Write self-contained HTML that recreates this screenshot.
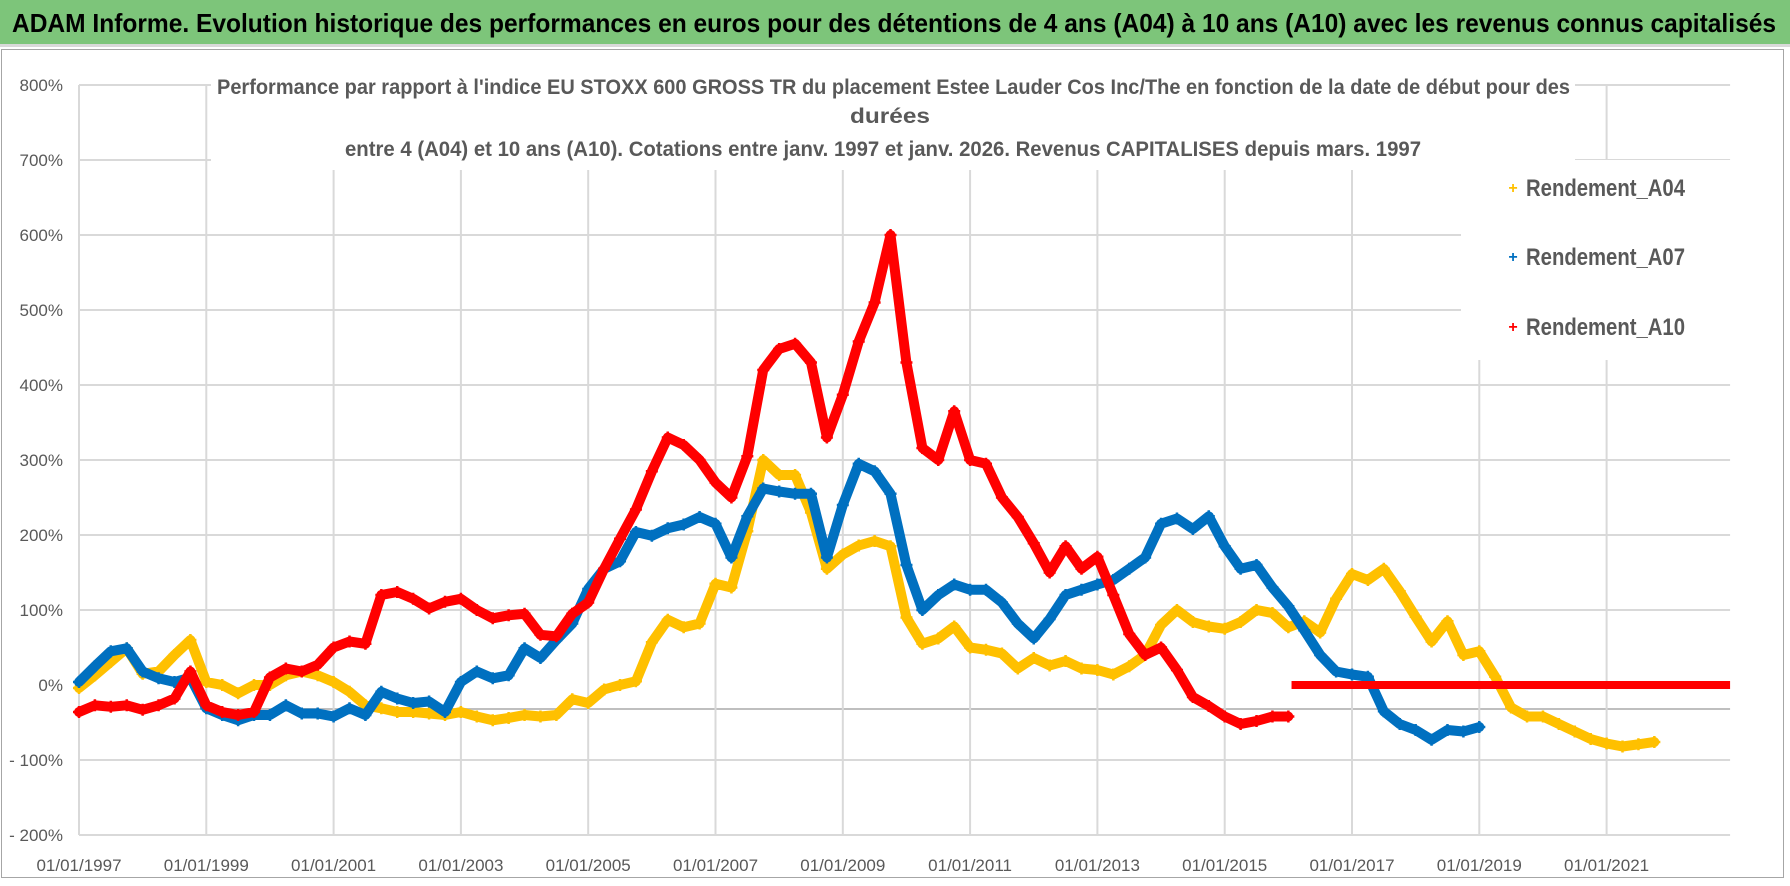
<!DOCTYPE html>
<html><head><meta charset="utf-8"><style>
html,body{margin:0;padding:0;background:#fff;}
svg{display:block;}
text{font-family:"Liberation Sans Narrow","Liberation Sans",sans-serif;}
</style></head><body>
<svg id="chart" xmlns="http://www.w3.org/2000/svg" width="1790" height="886" viewBox="0 0 1790 886">
<rect x="0" y="0" width="1790" height="886" fill="#fff"/>
<rect x="0" y="0" width="1790" height="44" fill="#7DC57A"/>
<rect x="0" y="44" width="1790" height="3" fill="#d9d9d9"/>
<text x="12" y="32" font-size="26" font-weight="bold" fill="#000" textLength="1764" lengthAdjust="spacingAndGlyphs">ADAM Informe. Evolution historique des performances en euros pour des détentions de 4 ans (A04) à 10 ans (A10) avec les revenus connus capitalisés</text>
<rect x="1.5" y="49.5" width="1782" height="828" fill="none" stroke="#a6a6a6" stroke-width="1"/>
<g id="grid"></g>
<g id="series"></g>
<rect x="211" y="66" width="1364" height="104" fill="#fff"/>
<text x="217" y="94" font-size="21" font-weight="bold" fill="#595959" textLength="1353" lengthAdjust="spacingAndGlyphs">Performance par rapport à l'indice EU STOXX 600 GROSS TR  du placement Estee Lauder Cos Inc/The en fonction de la date de début pour des</text>
<text x="850" y="123" font-size="21" font-weight="bold" fill="#595959" textLength="80" lengthAdjust="spacingAndGlyphs">durées</text>
<text x="345" y="156" font-size="21" font-weight="bold" fill="#595959" textLength="1076" lengthAdjust="spacingAndGlyphs">entre 4 (A04) et 10 ans (A10).  Cotations entre janv. 1997 et janv. 2026. Revenus CAPITALISES  depuis mars. 1997</text>
<g>
<rect x="1461" y="160" width="270" height="200" fill="#fff"/>
<g><text x="1513" y="193" font-size="16" font-weight="bold" fill="#FFC000" text-anchor="middle">+</text><text x="1526" y="196" font-size="24" font-weight="bold" fill="#595959" textLength="159" lengthAdjust="spacingAndGlyphs">Rendement_A04</text></g>
<g><text x="1513" y="262" font-size="16" font-weight="bold" fill="#0070C0" text-anchor="middle">+</text><text x="1526" y="265" font-size="24" font-weight="bold" fill="#595959" textLength="159" lengthAdjust="spacingAndGlyphs">Rendement_A07</text></g>
<g><text x="1513" y="332" font-size="16" font-weight="bold" fill="#FF0000" text-anchor="middle">+</text><text x="1526" y="335" font-size="24" font-weight="bold" fill="#595959" textLength="159" lengthAdjust="spacingAndGlyphs">Rendement_A10</text></g>
</g>
</svg>
<script>
// ---- data (t = years since 01/01/1997, quarterly steps; values in %) ----
const yTicks = [800,700,600,500,400,300,200,100,0,-100,-200];
const yTickLabels = ["800%","700%","600%","500%","400%","300%","200%","100%","0%","- 100%","- 200%"];
const xTickYears = [0,2,4,6,8,10,12,14,16,18,20,22,24];
const xTickLabels = ["01/01/1997","01/01/1999","01/01/2001","01/01/2003","01/01/2005","01/01/2007","01/01/2009","01/01/2011","01/01/2013","01/01/2015","01/01/2017","01/01/2019","01/01/2021"];
const a04Start = 0;
const a04 = [-4,13,31,49,15,18,40,60,4,0,-11,0,0,13,18,13,4,-9,-27,-31,-36,-36,-38,-40,-36,-42,-47,-44,-40,-42,-40,-19,-24,-6,0,5,57,87,77,82,135,130,205,300,280,280,230,155,174,186,192,185,90,55,62,78,50,47,42,22,36,26,32,22,20,14,25,40,80,100,84,78,75,84,100,96,77,85,70,115,148,140,155,125,91,58,85,40,45,11,-30,-42,-42,-52,-62,-72,-78,-82,-79,-76];
const a07Start = 0;
const a07 = [4,25,45,49,18,9,4,10,-31,-40,-47,-40,-40,-27,-38,-38,-42,-31,-40,-9,-18,-24,-22,-36,4,18,9,13,49,36,60,82,128,155,165,204,199,209,214,224,215,170,225,262,258,255,255,170,240,295,285,255,160,100,120,134,127,127,110,82,62,88,120,127,134,140,155,170,215,222,208,225,185,155,160,130,105,73,40,18,14,11,-35,-52,-60,-73,-60,-62,-56];
const a10Start = 0;
const a10 = [-36,-27,-29,-27,-33,-27,-18,18,-27,-36,-40,-36,10,22,18,27,50,58,55,120,124,115,102,111,115,100,89,93,95,67,65,95,110,155,195,234,285,330,320,300,270,250,305,420,448,455,430,330,387,458,510,600,430,316,300,365,300,295,250,224,189,150,185,155,171,120,68,40,50,20,-16,-28,-42,-52,-48,-42,-42];
const a10FlatStart = 19.05, a10FlatEnd = 25.94, a10FlatValue = 0;
const step = 0.25;

// ---- axes ----
const X0 = 79, PXY = 63.65, XMAXT = 25.94;
const Y0 = 685, PXP = 0.75;
const xs = t => X0 + t * PXY;
const ys = p => Y0 - p * PXP;
const NS = "http://www.w3.org/2000/svg";
function mk(tag, attrs, parent){const e=document.createElementNS(NS,tag);for(const k in attrs)e.setAttribute(k,attrs[k]);parent.appendChild(e);return e;}
const grid = document.getElementById('grid');
const xRight = xs(XMAXT);
yTicks.forEach((v,i)=>{
  if (v !== 0) {
    const l = mk('line',{x1:X0,x2:xRight,y1:ys(v),y2:ys(v),stroke:'#d9d9d9','stroke-width':2},grid);
    
    
  }
  const t = mk('text',{x:63,y:ys(v)+6,'font-size':17,fill:'#595959','text-anchor':'end'},grid);
  t.textContent = yTickLabels[i];
  
  
});
const ax = mk('line',{x1:X0,x2:xRight,y1:ys(-32),y2:ys(-32),stroke:'#bfbfbf','stroke-width':2},grid);


xTickYears.forEach((yr,i)=>{
  const l = mk('line',{x1:xs(yr),x2:xs(yr),y1:ys(800),y2:ys(-200),stroke:'#d9d9d9','stroke-width':2},grid);
  
  
  const t = mk('text',{x:xs(yr),y:871,'font-size':17,fill:'#595959','text-anchor':'middle'},grid);
  t.textContent = xTickLabels[i];
  
  
});

// ---- series ----
const layer = document.getElementById('series');
function drawSeries(vals, start, color, name){
  const g = mk('g',{},layer);
  
  
  const pts = vals.map((v,i)=>[xs(start+i*step), ys(v)]);
  const pl = mk('polyline',{points:pts.map(p=>p[0].toFixed(1)+','+p[1].toFixed(1)).join(' '),fill:'none',stroke:color,'stroke-width':10,'stroke-linejoin':'round','stroke-linecap':'round'},g);
  
  
  pts.forEach(p=>{
    const m = mk('path',{d:`M${p[0]-6},${p[1]}h12M${p[0]},${p[1]-6}v12`,stroke:color,'stroke-width':2.5},g);
    
    
  });
}
drawSeries(a04, a04Start, '#FFC000', 'series-a04');
drawSeries(a07, a07Start, '#0070C0', 'series-a07');
drawSeries(a10, a10Start, '#FF0000', 'series-a10');
const flat = mk('line',{x1:xs(a10FlatStart),x2:xs(a10FlatEnd),y1:ys(a10FlatValue),y2:ys(a10FlatValue),stroke:'#FF0000','stroke-width':8},layer);


</script>
</body></html>
